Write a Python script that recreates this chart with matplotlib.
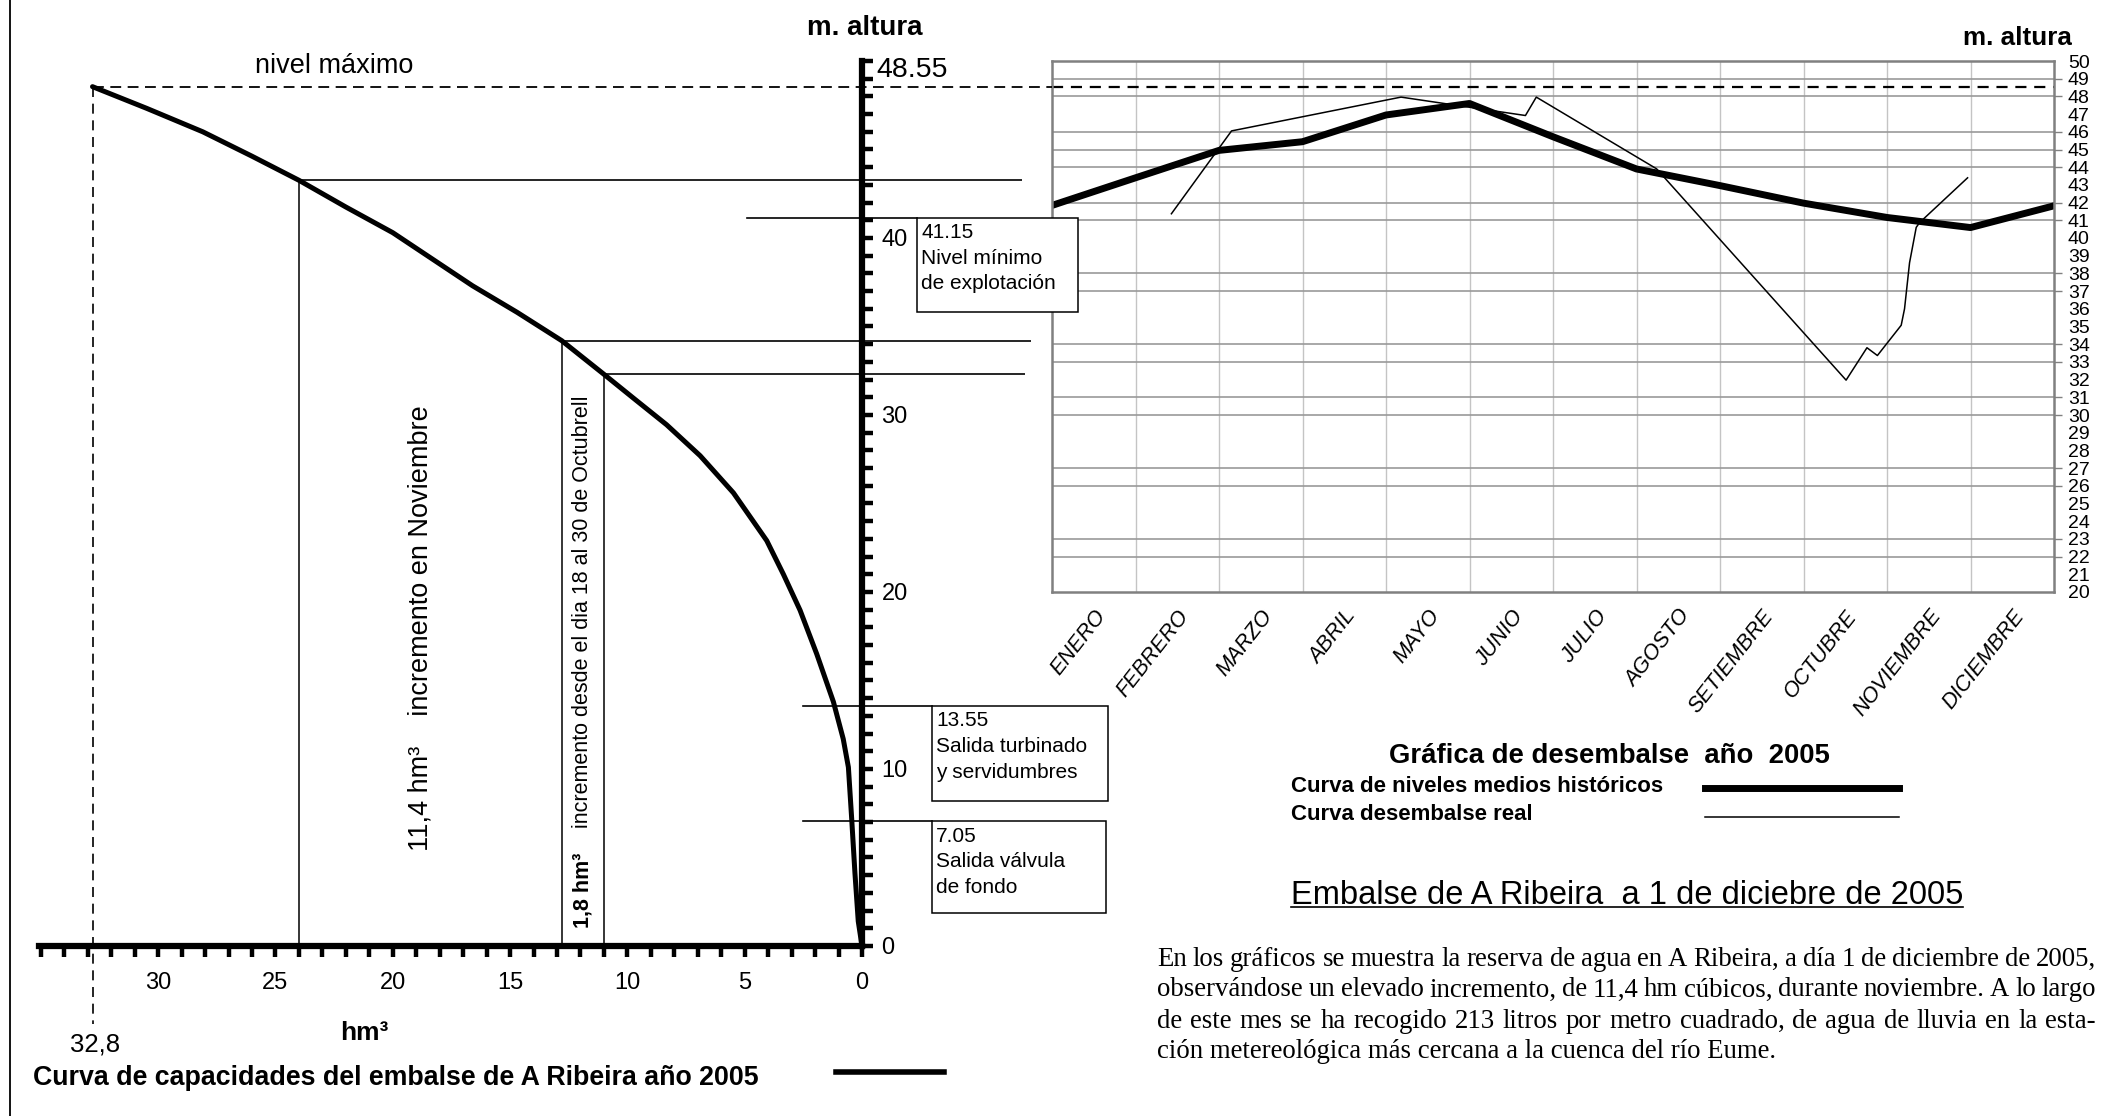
import numpy as np
import matplotlib
matplotlib.use("Agg")
import matplotlib.pyplot as plt
from matplotlib.lines import Line2D
from matplotlib.patches import Rectangle

plt.rcParams['font.family'] = ['Liberation Sans', 'DejaVu Sans']

# tamaño final en pixeles (dpi 100)
W, H = 2109, 1116

# Curva de capacidades: volumen (hm3) frente a altura (m)
cap_hm = [32.8, 30.5, 28.1, 26.0, 24.0, 22.0, 20.0, 18.3, 16.6, 14.7, 12.8, 11.0, 9.74,
          8.33, 6.9, 5.48, 4.06, 3.35, 2.64, 1.93, 1.22, 0.8, 0.58, 0.44, 0.3, 0.16, 0.0]
cap_m = [48.55, 47.33, 46.0, 44.62, 43.26, 41.75, 40.3, 38.8, 37.3, 35.8, 34.2, 32.3, 30.95,
         29.45, 27.7, 25.6, 22.9, 21.0, 18.97, 16.5, 13.8, 11.7, 10.1, 7.2, 4.1, 1.4, 0.0]

nivel_max = 48.55
vol_max = 32.8

# lecturas sobre la curva (1 dic, 18 oct, 30 oct)
marca_hm = [24.0, 12.8, 11.0]
marca_m = [43.26, 34.2, 32.3]
marca_fin = [-6.8, -7.2, -6.95]

# niveles de explotación
niveles = [41.15, 13.55, 7.05]
niveles_txt = ["41.15\nNivel mínimo\nde explotación",
               "13.55\nSalida turbinado\ny servidumbres",
               "7.05\nSalida válvula\nde fondo"]

# Gráfica de desembalse
meses = ["ENERO", "FEBRERO", "MARZO", "ABRIL", "MAYO", "JUNIO", "JULIO",
         "AGOSTO", "SETIEMBRE", "OCTUBRE", "NOVIEMBRE", "DICIEMBRE"]
hist = [41.84, 43.4, 44.95, 45.44, 46.95, 47.6, 45.72, 43.9, 42.96, 41.97, 41.16, 40.59, 41.82]
real_x = [1.43, 2.15, 4.18, 5.67, 5.80, 7.24, 9.51, 9.76, 9.885, 10.17, 10.21, 10.27, 10.35, 10.39, 10.965]
real_y = [41.37, 46.05, 47.96, 46.92, 47.96, 43.91, 31.97, 33.8, 33.36, 35.07, 36.0, 38.6, 40.6, 40.87, 43.4]
rejilla = [49, 48, 46, 45, 44, 42, 41, 38, 37, 34, 33, 31, 30, 27, 26, 23, 22]

parrafo = [
    "En los gráficos se muestra la reserva de agua en A Ribeira,  a día 1 de diciembre de 2005,",
    "observándose un elevado incremento, de 11,4 hm cúbicos, durante noviembre. A lo largo",
    "de este mes se ha recogido 213 litros por metro cuadrado, de agua de lluvia en la esta-",
    "ción metereológica más cercana a la cuenca del río Eume.",
]

fig = plt.figure(figsize=(W / 100, H / 100), dpi=100)


def fx(px):
    return px / W


def fy(py):
    return 1 - py / H


# ---------------- grafica de desembalse (derecha) ----------------
ax2 = fig.add_axes([fx(1052), fy(592), (2054 - 1052) / W, (592 - 61) / H])
ax2.set_zorder(1)
ax2.set_xlim(0, 12)
ax2.set_ylim(20, 50)
for s in ax2.spines.values():
    s.set_color('#808080')
    s.set_linewidth(1.8)
ax2.yaxis.tick_right()
ax2.yaxis.remove_overlapping_locs = False
ax2.set_yticks(range(20, 51))
ax2.set_yticks(rejilla, minor=True)
ax2.set_xticks(np.arange(12) + 0.5)
ax2.set_xticklabels(meses, rotation=52, ha='right', rotation_mode='anchor',
                    fontstyle='italic', fontsize=15.5)
ax2.set_xticks(range(1, 12), minor=True)
ax2.tick_params(axis='y', which='major', length=0, labelsize=14, pad=10)
ax2.tick_params(axis='y', which='minor', length=6, color='#808080', width=1)
ax2.tick_params(axis='x', which='both', length=0, pad=10)
ax2.grid(which='minor', axis='x', color='#c4c4c4', lw=1)
ax2.grid(which='minor', axis='y', color='#999999', lw=1.2)
ax2.axhline(nivel_max, color='black', lw=1.6, dashes=(5, 3.5))
ax2.plot(range(13), hist, color='black', lw=5, solid_joinstyle='round')
ax2.plot(real_x, real_y, color='black', lw=1.1)

# ---------------- curva de capacidades (izquierda) ----------------
sx, sy = 23.46, 17.70
x0, y0 = 862, 946
xl = (36.3, -11.5)
yl = (-9, 52.5)
left_px = x0 - xl[0] * sx
right_px = x0 - xl[1] * sx
bot_px = y0 - yl[0] * sy
top_px = y0 - yl[1] * sy
ax = fig.add_axes([fx(left_px), fy(bot_px), (right_px - left_px) / W, (bot_px - top_px) / H])
ax.set_zorder(2)
ax.patch.set_alpha(0)
ax.set_xlim(*xl)
ax.set_ylim(*yl)
ax.spines['top'].set_visible(False)
ax.spines['left'].set_visible(False)
ax.spines['right'].set_position(('data', 0))
ax.spines['bottom'].set_position(('data', 0))
ax.spines['right'].set_bounds(0, 50)
ax.spines['bottom'].set_bounds(0, 35.1)
ax.spines['right'].set_linewidth(4.5)
ax.spines['bottom'].set_linewidth(4.5)
ax.yaxis.tick_right()
ax.set_yticks([0, 10, 20, 30, 40])
ax.set_yticks(range(0, 51), minor=True)
ax.set_xticks([0, 5, 10, 15, 20, 25, 30])
ax.set_xticks(range(0, 36), minor=True)
ax.tick_params(axis='both', which='both', direction='out', length=8, width=3.2)
ax.tick_params(axis='y', labelsize=17, pad=6)
ax.tick_params(axis='x', labelsize=17, pad=11)

ax.plot(cap_hm, cap_m, color='black', lw=3.6, solid_capstyle='round', solid_joinstyle='round')
ax.plot([vol_max, vol_max], [nivel_max, -4.4], color='black', lw=1.2, dashes=(6, 4))
borde_der = (x0 - 1052) / sx
ax.plot([vol_max, borde_der], [nivel_max, nivel_max], color='black', lw=1.3, dashes=(6, 3.6))
ax.vlines(marca_hm, 0, marca_m, color='black', lw=1.1)
ax.hlines(marca_m, marca_hm, marca_fin, color='black', lw=1.2)

# cajas de niveles
cajas = [(4.9, -2.33, -9.19, 35.8), (2.5, -2.97, -10.5, 8.2), (2.5, -2.97, -10.4, 1.85)]
for nv, txt, (xa, xb, xc, yb) in zip(niveles, niveles_txt, cajas):
    ax.plot([xa, xb], [nv, nv], color='black', lw=1.2)
    ax.add_patch(Rectangle((xb, yb), xc - xb, nv - yb, facecolor='white',
                           edgecolor='black', lw=1.1, clip_on=False, zorder=3))
    ax.text(xb - 0.2, nv - 0.3, txt, ha='left', va='top', fontsize=15,
            linespacing=1.45, zorder=4)

ax.text(22.5, 49.7, "nivel máximo", ha='center', va='center', fontsize=19.5)
ax.text(-0.6, 49.5, f"{nivel_max:.2f}", ha='left', va='center', fontsize=20.5)
ax.text(vol_max - 0.1, -5.55, f"{vol_max}".replace('.', ','), ha='center', va='center', fontsize=18.5)
ax.text(21.2, -4.9, "hm³", ha='center', va='center', fontsize=19, fontweight='bold')

ax.text(18.8, 5.35, "11,4 hm³    incremento en Noviembre", rotation=90,
        ha='center', va='bottom', fontsize=19.5)
ax.text(11.9, 1.0, "1,8 hm³", rotation=90, ha='center', va='bottom',
        fontsize=15.5, fontweight='bold')
ax.text(11.9, 6.65, "incremento desde el dia 18 al 30 de Octubrell", rotation=90,
        ha='center', va='bottom', fontsize=15.5)

# ---------------- textos generales ----------------
fig.text(fx(865), fy(28), "m. altura", ha='center', va='center', fontsize=20, fontweight='bold')
fig.text(fx(2017), fy(38), "m. altura", ha='center', va='center', fontsize=18.7, fontweight='bold')
fig.text(fx(33), fy(1078), "Curva de capacidades del embalse de A Ribeira año 2005",
         ha='left', va='center', fontsize=19.3, fontweight='bold')
fig.add_artist(Line2D([fx(836), fx(944)], [fy(1072)] * 2, color='black', lw=4))
fig.add_artist(Line2D([fx(10), fx(10)], [0, 1], color='black', lw=1.3))

fig.text(fx(1609), fy(756), "Gráfica de desembalse  año  2005", ha='center', va='center',
         fontsize=19.8, fontweight='bold')
fig.text(fx(1291), fy(787), "Curva de niveles medios históricos", ha='left', va='center',
         fontsize=16, fontweight='bold')
fig.text(fx(1291), fy(814), "Curva desembalse real", ha='left', va='center',
         fontsize=16, fontweight='bold')
fig.add_artist(Line2D([fx(1705), fx(1899)], [fy(788)] * 2, color='black', lw=5))
fig.add_artist(Line2D([fx(1705), fx(1899)], [fy(817)] * 2, color='black', lw=1.1))

titulo = fig.text(fx(1291), fy(904), "Embalse de A Ribeira  a 1 de diciebre de 2005",
                  ha='left', va='baseline', fontsize=23.5)

fig.canvas.draw()
r = fig.canvas.get_renderer()
bb = titulo.get_window_extent(r)
fig.add_artist(Line2D([bb.x0 / W, bb.x1 / W], [fy(907)] * 2, color='black', lw=1.2))

# parrafo justificado
px0, px1 = 1157, 2096
ys = [959, 990, 1021, 1052]
kw = dict(family=['Liberation Serif', 'DejaVu Serif'], fontsize=19.3, va='center', ha='left')
for i, (linea, yy) in enumerate(zip(parrafo, ys)):
    if i == len(parrafo) - 1:
        fig.text(fx(px0), fy(yy), linea, **kw)
        continue
    palabras = linea.split()
    objs = [fig.text(0, fy(yy), p, **kw) for p in palabras]
    anchos = [o.get_window_extent(r).width for o in objs]
    hueco = max((px1 - px0 - sum(anchos)) / (len(palabras) - 1), 3)
    x = px0
    for o, a in zip(objs, anchos):
        o.set_x(fx(x))
        x += a + hueco

fig.savefig("out.png", dpi=100)
